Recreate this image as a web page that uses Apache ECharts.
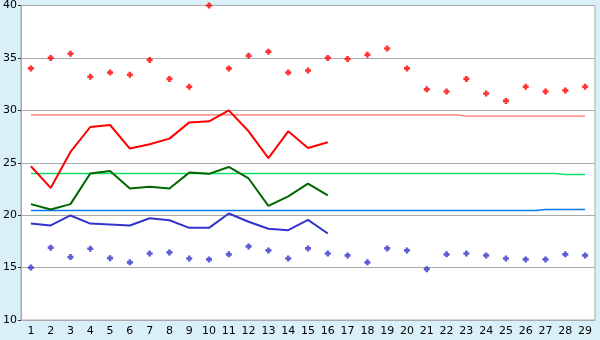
<!DOCTYPE html>
<html><head><meta charset="utf-8">
<script src="https://cdn.jsdelivr.net/npm/echarts@6/dist/echarts.min.js"></script>
<style>html,body{margin:0;padding:0;background:#d9f0f8;}#c{width:600px;height:340px;}</style>
</head><body><div id="c"></div>
<script>
const categories = ['1','2','3','4','5','6','7','8','9','10','11','12','13','14','15','16','17','18','19','20','21','22','23','24','25','26','27','28','29'];
const yTicks = [10, 40, 5];
const maxPoints = [34.0,35.0,35.4,33.2,33.6,33.4,34.8,33.0,32.25,40.0,34.0,35.2,35.6,33.6,33.8,35.0,34.9,35.3,35.9,34.0,32.0,31.8,33.0,31.6,30.9,32.25,31.8,31.9,32.25];
const minPoints = [15.0,16.9,16.0,16.8,15.9,15.5,16.35,16.45,15.87,15.78,16.26,17.02,16.64,15.87,16.83,16.35,16.16,15.5,16.83,16.64,14.85,16.26,16.35,16.16,15.87,15.78,15.78,16.26,16.16];
const maxAvg = [24.67,22.6,26.03,28.41,28.6,26.35,26.76,27.3,28.85,28.95,30.0,28.0,25.45,28.0,26.4,26.95];
const meanAvg = [21.05,20.54,21.05,23.97,24.22,22.54,22.7,22.54,24.06,23.94,24.6,23.5,20.89,21.8,23.0,21.88];
const minAvg = [19.21,19.02,19.97,19.2,19.11,19.02,19.7,19.52,18.79,18.79,20.16,19.37,18.7,18.57,19.55,18.25];
const refMax = [29.57,29.57,29.57,29.57,29.57,29.57,29.57,29.57,29.57,29.57,29.57,29.57,29.57,29.57,29.57,29.57,29.57,29.57,29.57,29.57,29.57,29.57,29.45,29.45,29.45,29.45,29.45,29.45,29.45];
const refMean = [23.97,23.97,23.97,23.97,23.97,23.97,23.97,23.97,23.97,23.97,23.97,23.97,23.97,23.97,23.97,23.97,23.97,23.97,23.97,23.97,23.97,23.97,23.97,23.97,23.97,23.97,23.97,23.88,23.88];
const refMin = [20.45,20.45,20.45,20.45,20.45,20.45,20.45,20.45,20.45,20.45,20.45,20.45,20.45,20.45,20.45,20.45,20.45,20.45,20.45,20.45,20.45,20.45,20.45,20.45,20.45,20.45,20.54,20.54,20.54];

const marker = 'path://M1.7,0 H4.3 V1.7 H6 V4.3 H4.3 V6 H1.7 V4.3 H0 V1.7 H1.7 Z';
const chart = echarts.init(document.getElementById('c'), null, {renderer:'canvas'});
function refLine(data, color){
  return {type:'line', data:data, step:'middle', symbol:'none', silent:true,
    lineStyle:{color:color, width:1.4}, z:2};
}
function avgLine(data, color){
  return {type:'line', data:data, symbol:'none', silent:true,
    lineStyle:{color:color, width:2}, z:3};
}
function pts(data, color){
  return {type:'scatter', data:data, symbol:marker, symbolSize:6, silent:true,
    itemStyle:{color:color}, z:4};
}
chart.setOption({
  animation:false,
  backgroundColor:'#d9f0f8',
  grid:{left:20, right:5, top:5, bottom:20, show:true, backgroundColor:'#ffffff', borderColor:'#aaaaaa', borderWidth:1},
  xAxis:{type:'category', data:categories, boundaryGap:true,
    axisLine:{lineStyle:{color:'#aaaaaa'}},
    axisTick:{alignWithLabel:true, interval:0, length:4, lineStyle:{color:'#333333'}},
    axisLabel:{interval:0, color:'#000', fontFamily:'DejaVu Sans', fontSize:11, margin:6}},
  yAxis:{type:'value', min:yTicks[0], max:yTicks[1], interval:yTicks[2],
    axisLine:{show:true, lineStyle:{color:'#aaaaaa'}},
    axisTick:{show:true, length:3, lineStyle:{color:'#333333'}},
    axisLabel:{color:'#000', fontFamily:'DejaVu Sans', fontSize:11, margin:4},
    splitLine:{show:true, lineStyle:{color:'#aaaaaa'}}},
  series:[
    refLine(refMax,'#ff7070'),
    refLine(refMean,'#10e070'),
    refLine(refMin,'#0878f0'),
    avgLine(maxAvg,'#ff0000'),
    avgLine(meanAvg,'#006600'),
    avgLine(minAvg,'#3333cc'),
    pts(maxPoints,'#ff0000'),
    pts(minPoints,'#3333cc')
  ]
});
</script></body></html>
